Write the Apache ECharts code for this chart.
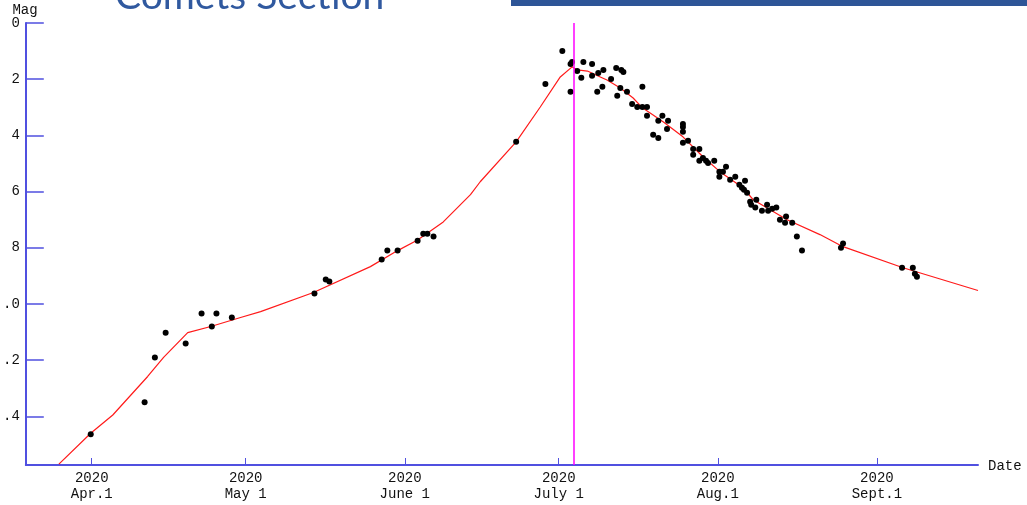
<!DOCTYPE html>
<html>
<head>
<meta charset="utf-8">
<script src="https://cdn.jsdelivr.net/npm/echarts@6/dist/echarts.min.js"></script>
<style>
html,body{margin:0;padding:0;background:#fff;}
#chart{width:1027px;height:505px;}
</style>
</head>
<body>
<div id="chart"></div>
<script>
// Days counted from 2020-04-01 (0 = Apr 1)
const xTickDays = [0, 30, 61, 91, 122, 153];
const xTickYears = ['2020', '2020', '2020', '2020', '2020', '2020'];
const xTickMonths = ['Apr.1', 'May 1', 'June 1', 'July 1', 'Aug.1', 'Sept.1'];
const yTickValues = [0, 2, 4, 6, 8, 10, 12, 14];
const yTickLabels = ['0', '2', '4', '6', '8', '.0', '.2', '.4'];
const markerDay = 94.0;

// Observed magnitudes
const obsDays = [-0.2, 10.3, 12.3, 14.4, 18.3, 21.4, 23.4, 24.3, 27.3,
  43.4, 45.6, 46.3, 56.5, 57.6, 59.6, 63.5, 64.6, 65.4, 66.6,
  82.7, 88.4, 91.7, 93.3, 93.6, 93.3, 94.6, 95.8, 97.5, 95.4, 97.5, 98.7, 99.7, 98.5, 99.5,
  101.2, 102.2, 103.2, 103.6, 102.4, 103.0, 104.3, 107.3, 105.3, 106.3, 107.3, 108.2, 108.2,
  110.4, 111.2, 112.3, 112.1, 109.4, 110.4, 115.2, 115.2, 115.2, 115.2, 116.2, 117.2, 118.4,
  117.2, 118.4, 119.1, 119.7, 120.1, 121.3, 122.3, 122.3, 123.6, 123.0, 124.4, 125.4, 126.2,
  126.7, 127.3, 127.1, 127.7, 128.3, 128.5, 129.5, 129.3, 130.6, 131.6, 131.8, 132.6, 133.4,
  134.1, 135.3, 135.1, 136.5, 137.4, 138.4, 146.0, 146.4, 157.9, 160.0, 160.4, 160.8];
const obsMags = [14.64, 13.50, 11.90, 11.02, 11.41, 10.34, 10.80, 10.34, 10.48,
  9.63, 9.13, 9.20, 8.42, 8.10, 8.10, 7.75, 7.50, 7.50, 7.60,
  4.23, 2.17, 1.00, 1.46, 1.39, 2.45, 1.71, 1.39, 1.46, 1.95, 1.88, 1.78, 1.67, 2.45, 2.27,
  1.99, 1.60, 1.67, 1.74, 2.59, 2.31, 2.45, 2.27, 2.88, 2.99, 2.99, 2.99, 3.30,
  3.48, 3.30, 3.48, 3.77, 3.98, 4.09, 3.59, 3.70, 3.87, 4.26, 4.19, 4.48, 4.48,
  4.69, 4.90, 4.80, 4.90, 4.98, 4.90, 5.29, 5.47, 5.12, 5.29, 5.58, 5.47, 5.76,
  5.86, 5.61, 5.93, 6.04, 6.36, 6.47, 6.29, 6.57, 6.68, 6.47, 6.68, 6.61, 6.57,
  7.00, 6.89, 7.11, 7.11, 7.60, 8.10, 8.00, 7.85, 8.71, 8.71, 8.92, 9.03];

// Fitted light curve
const curveDays = [-6.4, -0.2, 4.1, 10.9, 14.0, 18.7, 23.2, 29.0, 32.9, 43.2, 54.3, 59.6, 63.5,
  68.5, 73.8, 75.7, 82.7, 87.4, 91.3, 93.6, 94.6, 96.6, 99.1, 100.4, 103.0, 105.5, 107.3,
  111.4, 115.2, 119.1, 122.4, 126.9, 128.9, 135.5, 141.9, 146.4, 158.1, 172.7];
const curveMags = [15.7, 14.6, 13.95, 12.58, 11.9, 11.02, 10.8, 10.48, 10.27, 9.59, 8.67, 8.10, 7.72,
  7.08, 6.11, 5.65, 4.23, 2.99, 1.92, 1.56, 1.67, 1.71, 1.92, 2.03, 2.31, 2.67, 3.02,
  3.52, 4.05, 4.76, 5.29, 5.86, 6.29, 7.00, 7.53, 7.96, 8.71, 9.52];

const xMin = -12.85, xMax = 172.7, yMin = 0, yMax = 15.73;
const axisBlue = '#5050e0';
const monoFont = "'Liberation Mono', 'Courier New', monospace";

const chart = echarts.init(document.getElementById('chart'), null, {renderer: 'canvas'});
chart.setOption({
  animation: false,
  backgroundColor: '#ffffff',
  grid: {left: 25, right: 49, top: 23, bottom: 40, containLabel: false},
  xAxis: {
    type: 'value', min: xMin, max: xMax,
    axisLine: {onZero: false, lineStyle: {color: axisBlue, width: 2}},
    axisTick: {inside: true, length: 7, customValues: xTickDays, lineStyle: {color: axisBlue, width: 1}},
    axisLabel: {
      customValues: xTickDays, margin: 5,
      fontFamily: monoFont, fontSize: 14, color: '#111', lineHeight: 16,
      formatter: function (v) {
        const i = xTickDays.indexOf(Math.round(v));
        return i < 0 ? '' : xTickYears[i] + '\n' + xTickMonths[i];
      }
    },
    splitLine: {show: false}
  },
  yAxis: {
    type: 'value', min: yMin, max: yMax, inverse: true,
    axisLine: {onZero: false, lineStyle: {color: axisBlue, width: 2}},
    axisTick: {inside: true, length: 18, customValues: yTickValues, lineStyle: {color: axisBlue, width: 1.5}},
    axisLabel: {
      customValues: yTickValues, margin: 6,
      fontFamily: monoFont, fontSize: 14, color: '#111',
      formatter: function (v) {
        const i = yTickValues.indexOf(Math.round(v));
        return i < 0 ? '' : yTickLabels[i];
      }
    },
    splitLine: {show: false}
  },
  graphic: [
    {type: 'rect', shape: {x: 511, y: 0, width: 516, height: 6}, style: {fill: '#2e5597'}, silent: true},
    {type: 'text', x: 115, y: -4, silent: true,
      style: {text: 'Comets Section', font: "39px Lato, 'Open Sans', sans-serif", fill: '#30599f', textVerticalAlign: 'middle'}},
    {type: 'text', x: 25, y: 10, silent: true,
      style: {text: 'Mag', font: '14px ' + monoFont, fill: '#111', textAlign: 'center', textVerticalAlign: 'middle'}},
    {type: 'text', x: 988, y: 466, silent: true,
      style: {text: 'Date', font: '14px ' + monoFont, fill: '#111', textAlign: 'left', textVerticalAlign: 'middle'}}
  ],
  series: [
    {
      type: 'line', data: curveDays.map((d, i) => [d, curveMags[i]]),
      showSymbol: false, smooth: false, clip: true,
      lineStyle: {color: '#ff1a1a', width: 1.2},
      markLine: {
        silent: true, symbol: 'none', label: {show: false},
        lineStyle: {color: '#ff00ff', width: 1.5, type: 'solid'},
        data: [{xAxis: markerDay}]
      },
      z: 2
    },
    {
      type: 'scatter', data: obsDays.map((d, i) => [d, obsMags[i]]),
      symbol: 'circle', symbolSize: 6,
      itemStyle: {color: '#000', opacity: 1}, z: 3
    }
  ]
});
</script>
</body>
</html>
